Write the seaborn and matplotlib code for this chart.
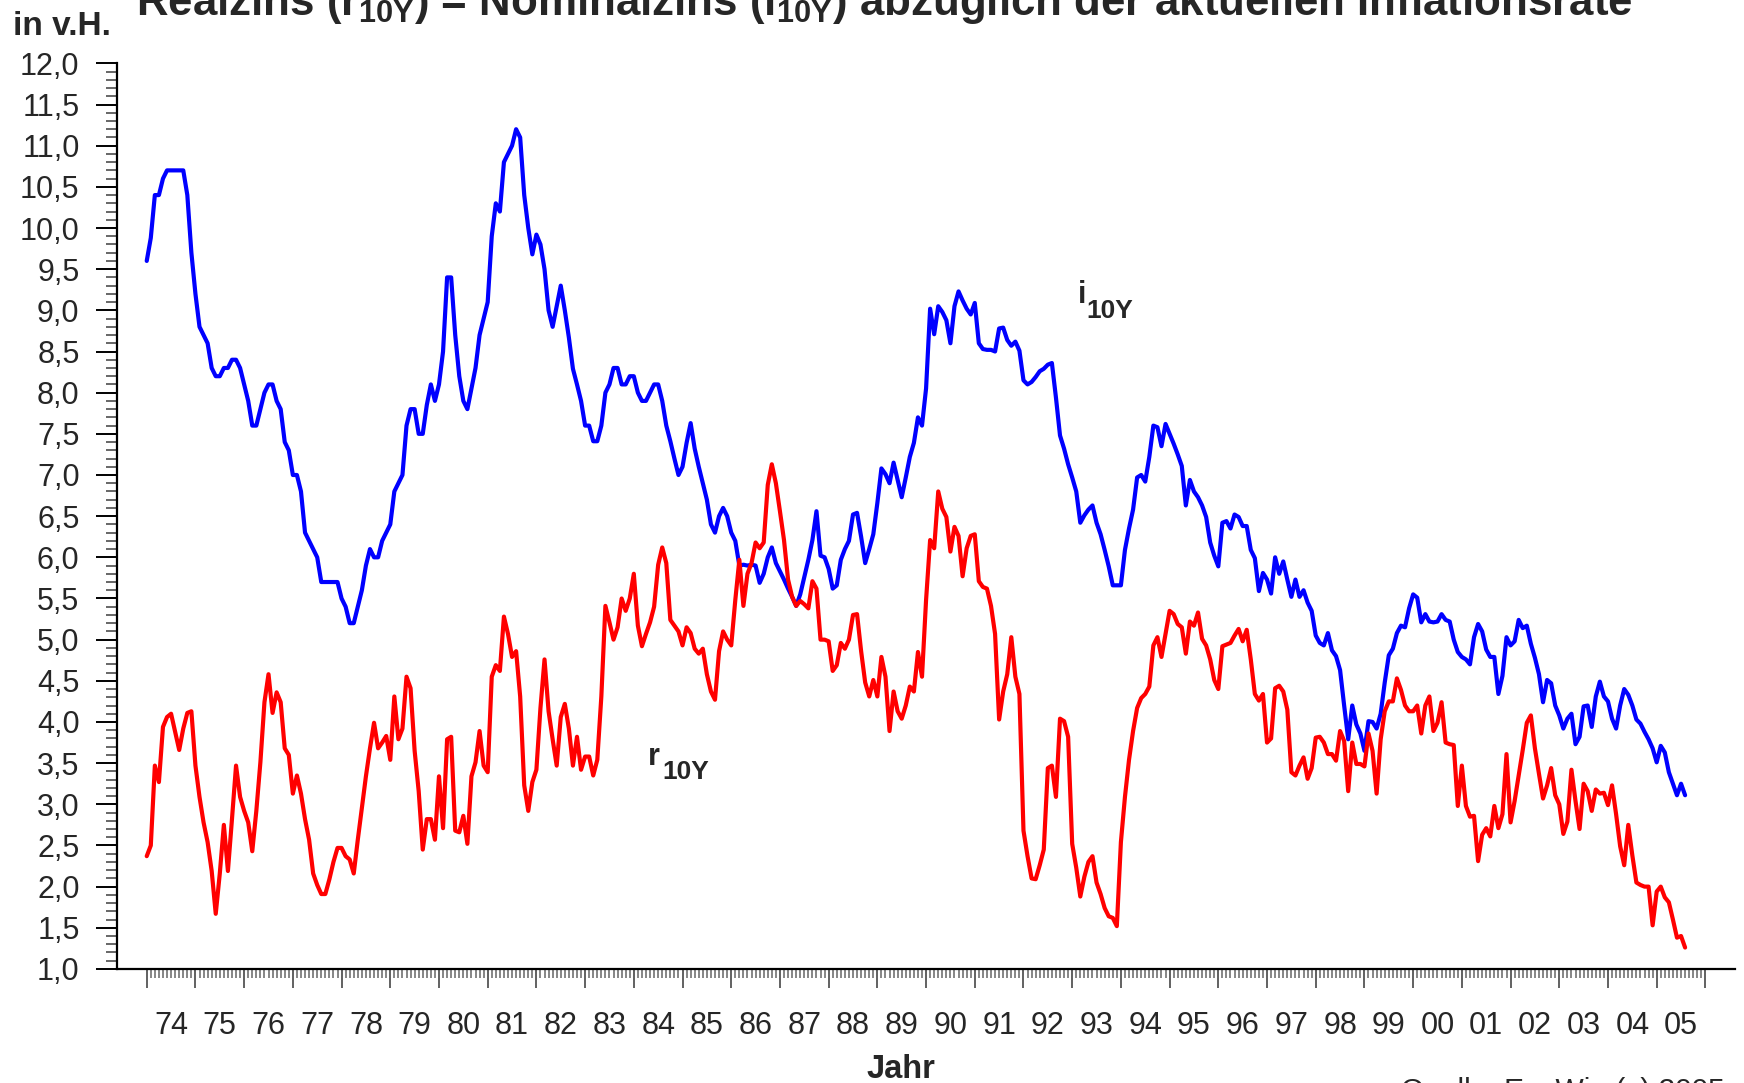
import numpy as np
import pandas as pd
import matplotlib
matplotlib.use('Agg')
import matplotlib.pyplot as plt
from matplotlib.ticker import FixedLocator, MultipleLocator, FuncFormatter, NullFormatter
import seaborn as sns

# monthly values, Jan 1974 - Aug 2005 (in v.H.)
start_year = 1974
nominal_10y = [
    9.6, 9.88, 10.4, 10.4, 10.6, 10.7, 10.7, 10.7, 10.7, 10.7, 10.4, 9.7,         # 74
    9.2, 8.8, 8.7, 8.6, 8.3, 8.2, 8.2, 8.3, 8.3, 8.4, 8.4, 8.3,                  # 75
    8.1, 7.9, 7.6, 7.6, 7.8, 8.0, 8.1, 8.1, 7.9, 7.8, 7.4, 7.3,                  # 76
    7.0, 7.0, 6.8, 6.3, 6.2, 6.1, 6.0, 5.7, 5.7, 5.7, 5.7, 5.7,                  # 77
    5.5, 5.4, 5.2, 5.2, 5.4, 5.6, 5.9, 6.1, 6.0, 6.0, 6.2, 6.3,                  # 78
    6.4, 6.8, 6.9, 7.0, 7.6, 7.8, 7.8, 7.5, 7.5, 7.85, 8.1, 7.9,                 # 79
    8.1, 8.5, 9.4, 9.4, 8.7, 8.2, 7.9, 7.8, 8.05, 8.3, 8.7, 8.9,                 # 80
    9.1, 9.9, 10.3, 10.2, 10.8, 10.9, 11.0, 11.2, 11.1, 10.4, 10.0, 9.68,        # 81
    9.92, 9.8, 9.5, 9.0, 8.8, 9.05, 9.3, 9.0, 8.67, 8.29, 8.1, 7.9,              # 82
    7.6, 7.6, 7.41, 7.41, 7.6, 8.0, 8.1, 8.3, 8.3, 8.1, 8.1, 8.2,                # 83
    8.2, 8.0, 7.9, 7.9, 8.0, 8.1, 8.1, 7.9, 7.6, 7.41, 7.2, 7.0,                 # 84
    7.1, 7.39, 7.63, 7.32, 7.1, 6.9, 6.7, 6.4, 6.3, 6.5, 6.6, 6.5,               # 85
    6.3, 6.2, 5.9, 5.91, 5.9, 5.91, 5.9, 5.69, 5.8, 6.0, 6.12, 5.93,             # 86
    5.83, 5.73, 5.62, 5.52, 5.41, 5.55, 5.76, 5.97, 6.21, 6.56, 6.02, 6.0,       # 87
    5.86, 5.62, 5.66, 5.97, 6.1, 6.2, 6.52, 6.54, 6.25, 5.93, 6.1, 6.28,         # 88
    6.66, 7.08, 7.01, 6.9, 7.15, 6.94, 6.73, 6.97, 7.22, 7.39, 7.7, 7.6,         # 89
    8.05, 9.02, 8.71, 9.05, 8.98, 8.88, 8.6, 9.05, 9.23, 9.12, 9.02, 8.95,       # 90
    9.09, 8.6, 8.53, 8.52, 8.52, 8.5, 8.78, 8.79, 8.64, 8.57, 8.62, 8.51,        # 91
    8.15, 8.1, 8.13, 8.19, 8.26, 8.29, 8.34, 8.36, 7.94, 7.48, 7.32, 7.13,       # 92
    6.97, 6.8, 6.42, 6.51, 6.58, 6.63, 6.42, 6.28, 6.09, 5.89, 5.66, 5.66,       # 93
    5.66, 6.09, 6.35, 6.58, 6.97, 7.0, 6.92, 7.22, 7.6, 7.58, 7.35, 7.62,        # 94
    7.5, 7.38, 7.25, 7.11, 6.63, 6.94, 6.8, 6.73, 6.63, 6.49, 6.18, 6.02,        # 95
    5.89, 6.42, 6.44, 6.35, 6.52, 6.49, 6.38, 6.38, 6.09, 5.99, 5.59, 5.81,      # 96
    5.73, 5.56, 6.0, 5.8, 5.95, 5.73, 5.52, 5.73, 5.52, 5.6, 5.45, 5.35,         # 97
    5.05, 4.96, 4.93, 5.08, 4.87, 4.8, 4.63, 4.2, 3.79, 4.2, 3.97, 3.86,         # 98
    3.65, 4.01, 4.0, 3.92, 4.1, 4.48, 4.81, 4.89, 5.08, 5.17, 5.15, 5.38,        # 99
    5.55, 5.51, 5.21, 5.31, 5.22, 5.21, 5.22, 5.31, 5.24, 5.22, 5.0, 4.85,       # 00
    4.79, 4.76, 4.7, 5.03, 5.19, 5.1, 4.88, 4.79, 4.79, 4.34, 4.56, 5.03,        # 01
    4.93, 4.98, 5.24, 5.14, 5.17, 4.95, 4.78, 4.58, 4.24, 4.51, 4.47, 4.2,       # 02
    4.08, 3.92, 4.04, 4.1, 3.73, 3.82, 4.19, 4.2, 3.94, 4.31, 4.49, 4.31,        # 03
    4.25, 4.04, 3.92, 4.2, 4.4, 4.33, 4.2, 4.03, 3.98, 3.88, 3.79, 3.68,         # 04
    3.51, 3.71, 3.63, 3.39, 3.25, 3.11, 3.25, 3.11,                              # 05
]
real_10y = [
    2.37, 2.5, 3.47, 3.27, 3.94, 4.06, 4.1, 3.88, 3.66, 3.92, 4.11, 4.13,        # 74
    3.47, 3.09, 2.78, 2.54, 2.19, 1.67, 2.16, 2.75, 2.19, 2.82, 3.47, 3.09,      # 75
    2.92, 2.78, 2.43, 2.92, 3.51, 4.24, 4.58, 4.11, 4.36, 4.24, 3.68, 3.6,       # 76
    3.13, 3.35, 3.13, 2.82, 2.57, 2.16, 2.02, 1.91, 1.91, 2.09, 2.3, 2.47,       # 77
    2.47, 2.37, 2.33, 2.16, 2.57, 2.95, 3.34, 3.68, 3.99, 3.68, 3.75, 3.83,      # 78
    3.54, 4.31, 3.79, 3.92, 4.55, 4.41, 3.65, 3.16, 2.45, 2.82, 2.82, 2.57,      # 79
    3.34, 2.71, 3.79, 3.82, 2.68, 2.66, 2.86, 2.52, 3.34, 3.51, 3.89, 3.47,      # 80
    3.39, 4.55, 4.69, 4.62, 5.28, 5.07, 4.79, 4.86, 4.31, 3.23, 2.92, 3.27,      # 81
    3.42, 4.17, 4.76, 4.13, 3.79, 3.47, 4.06, 4.22, 3.92, 3.47, 3.82, 3.42,      # 82
    3.58, 3.58, 3.35, 3.54, 4.31, 5.41, 5.21, 5.0, 5.15, 5.5, 5.35, 5.5,         # 83
    5.8, 5.17, 4.92, 5.07, 5.21, 5.4, 5.91, 6.12, 5.93, 5.24, 5.17, 5.1,         # 84
    4.93, 5.15, 5.08, 4.89, 4.83, 4.89, 4.58, 4.37, 4.27, 4.86, 5.1, 5.0,        # 85
    4.93, 5.48, 5.97, 5.41, 5.8, 5.93, 6.18, 6.11, 6.18, 6.88, 7.13, 6.9,        # 86
    6.56, 6.21, 5.73, 5.52, 5.41, 5.47, 5.43, 5.38, 5.71, 5.62, 5.0, 5.0,        # 87
    4.98, 4.62, 4.69, 4.96, 4.89, 5.0, 5.3, 5.31, 4.86, 4.48, 4.31, 4.51,        # 88
    4.31, 4.79, 4.55, 3.89, 4.37, 4.13, 4.04, 4.2, 4.43, 4.37, 4.85, 4.55,       # 89
    5.48, 6.21, 6.11, 6.8, 6.59, 6.49, 6.07, 6.37, 6.26, 5.77, 6.11, 6.26,       # 90
    6.28, 5.71, 5.64, 5.62, 5.41, 5.07, 4.03, 4.37, 4.58, 5.03, 4.55, 4.34,      # 91
    2.68, 2.37, 2.1, 2.09, 2.26, 2.45, 3.44, 3.47, 3.09, 4.04, 4.01, 3.82,       # 92
    2.52, 2.23, 1.88, 2.12, 2.3, 2.37, 2.05, 1.91, 1.74, 1.64, 1.62, 1.52,       # 93
    2.54, 3.09, 3.54, 3.89, 4.17, 4.29, 4.34, 4.43, 4.93, 5.03, 4.79, 5.07,      # 94
    5.35, 5.31, 5.19, 5.15, 4.83, 5.22, 5.17, 5.33, 5.01, 4.93, 4.76, 4.51,      # 95
    4.4, 4.92, 4.94, 4.96, 5.05, 5.13, 4.98, 5.12, 4.76, 4.34, 4.26, 4.34,       # 96
    3.75, 3.8, 4.41, 4.44, 4.37, 4.15, 3.39, 3.35, 3.47, 3.57, 3.31, 3.44,       # 97
    3.81, 3.82, 3.75, 3.61, 3.61, 3.53, 3.89, 3.77, 3.16, 3.75, 3.49, 3.49,      # 98
    3.46, 3.86, 3.65, 3.13, 3.79, 4.13, 4.25, 4.25, 4.53, 4.39, 4.2, 4.13,       # 99
    4.13, 4.2, 3.86, 4.2, 4.31, 3.89, 3.99, 4.24, 3.75, 3.73, 3.72, 2.98,        # 00
    3.47, 2.98, 2.85, 2.86, 2.31, 2.63, 2.71, 2.61, 2.98, 2.71, 2.88, 3.61,      # 01
    2.78, 3.04, 3.35, 3.66, 3.99, 4.08, 3.68, 3.37, 3.07, 3.23, 3.44, 3.11,      # 02
    3.0, 2.64, 2.79, 3.42, 3.04, 2.7, 3.25, 3.16, 2.92, 3.18, 3.13, 3.14,        # 03
    2.99, 3.23, 2.88, 2.49, 2.26, 2.75, 2.38, 2.05, 2.02, 2.0, 2.0, 1.53,        # 04
    1.94, 2.0, 1.87, 1.81, 1.6, 1.38, 1.4, 1.26,                                 # 05
]
years = list(range(1974, 2006))
year_labels = [f'{y % 100:02d}' for y in years]

title = (r'Realzins ($\mathbf{r}_{\mathbf{10Y}}$) = Nominalzins ($\mathbf{i}_{\mathbf{10Y}}$) '
         'abzüglich der aktuellen Inflationsrate')

sns.set_style('white')
plt.rcParams['font.family'] = ['Liberation Sans', 'DejaVu Sans']
plt.rcParams['mathtext.fontset'] = 'custom'
plt.rcParams['mathtext.rm'] = 'Liberation Sans'
plt.rcParams['mathtext.bf'] = 'Liberation Sans:bold'

months = start_year + np.arange(len(nominal_10y)) / 12
df = pd.DataFrame({'Jahr': months, 'i10Y': nominal_10y, 'r10Y': real_10y})
long_df = df.melt(id_vars='Jahr', var_name='Reihe', value_name='Zins')

fig = plt.figure(figsize=(17.44, 10.83), dpi=100)
ax = fig.add_axes([0.0671, 0.1053, 0.9278, 0.8362])

sns.lineplot(data=long_df, x='Jahr', y='Zins', hue='Reihe',
             palette={'i10Y': '#0000ff', 'r10Y': '#ff0000'},
             linewidth=3.0, legend=False, ax=ax)

ax.set_xlim(1973.39, 2006.61)
ax.set_ylim(1, 12)
for side in ['top', 'right']:
    ax.spines[side].set_visible(False)
for side in ['left', 'bottom']:
    ax.spines[side].set_linewidth(1.6)
    ax.spines[side].set_color('black')

# y axis: major every 0.5 with comma labels, minor every 0.1
ax.yaxis.set_major_locator(MultipleLocator(0.5))
ax.yaxis.set_minor_locator(MultipleLocator(0.1))
ax.yaxis.set_major_formatter(FuncFormatter(lambda v, p: f'{v:.1f}'.replace('.', ',')))
ax.tick_params(axis='y', which='major', length=15, width=1.4, color='black',
               labelsize=22, pad=12, left=True)
ax.tick_params(axis='y', which='minor', length=8, width=1.4, color='#666666', left=True)

# x axis: long ticks at year starts, short monthly ticks
ax.xaxis.set_major_locator(FixedLocator(np.arange(1974, 2007)))
ax.xaxis.set_minor_locator(FixedLocator(np.arange(1974, 2006 + 1e-9, 1 / 12)))
ax.xaxis.set_major_formatter(NullFormatter())
ax.tick_params(axis='x', which='major', length=14, width=1.3, color='#555555', bottom=True)
ax.tick_params(axis='x', which='minor', length=6.5, width=1.1, color='#666666', bottom=True)

# year labels centred between the year ticks
sec = ax.secondary_xaxis('bottom')
sec.set_xticks([y + 0.5 for y in years], labels=year_labels)
sec.tick_params(length=0, pad=30, labelsize=22)
sec.spines['bottom'].set_visible(False)

ax.set_xlabel('Jahr', fontsize=23.5, fontweight='bold')
ax.xaxis.set_label_coords(0.4845, -0.094)
ax.set_ylabel('in v.H.', fontsize=24, fontweight='bold', rotation=0, ha='left', va='baseline')
ax.yaxis.set_label_coords(-0.0643, 1.031)

# series labels
ax.text(1993.11, 9.09, 'i', fontsize=22, fontweight='bold', ha='left', va='baseline')
ax.annotate('10Y', xy=(1993.11, 9.09), xytext=(6.5, -10.5), textcoords='offset points',
            fontsize=19, fontweight='bold', ha='left', va='baseline')
ax.text(1984.28, 3.48, 'r', fontsize=22, fontweight='bold', ha='left', va='baseline')
ax.annotate('10Y', xy=(1984.28, 3.48), xytext=(10.5, -10.5), textcoords='offset points',
            fontsize=19, fontweight='bold', ha='left', va='baseline')

fig.suptitle(title, x=0.507, y=0.9861, va='baseline', fontsize=31.6, fontweight='bold')
fig.text(0.8033, -0.0144, 'Quelle: EcoWin (c) 2005', fontsize=21.5, ha='left', va='baseline')

fig.savefig('out.png', dpi=100, facecolor='white')
